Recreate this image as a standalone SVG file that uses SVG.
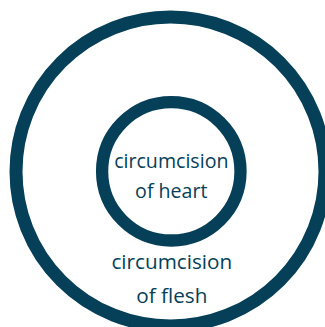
<svg xmlns="http://www.w3.org/2000/svg" width="325" height="327" viewBox="0 0 325 327">
<style>
.ring{fill:none;stroke:#053f58}
.lbl{font-family:"Open Sans","DejaVu Sans",sans-serif;fill:#053f58;text-anchor:middle}
</style>
<rect width="325" height="327" fill="#ffffff"/>
<g id="flesh">
<circle class="ring" cx="170.5" cy="171.5" r="154.5" stroke-width="13"/>
<text class="lbl" x="171.8" y="269.3" font-size="20.7">circumcision</text>
<text class="lbl" x="171.8" y="302.7" font-size="20.7">of flesh</text>
</g>
<g id="heart">
<circle class="ring" cx="171.3" cy="171.3" r="69.2" stroke-width="12.3"/>
<text class="lbl" x="171.3" y="168.3" font-size="19.6">circumcision</text>
<text class="lbl" x="171.3" y="198.3" font-size="19.6">of heart</text>
</g>
<g id="connectors"/>
</svg>
